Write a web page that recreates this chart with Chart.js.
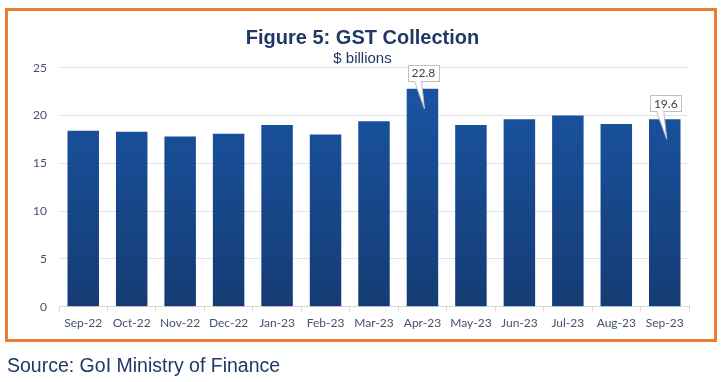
<!DOCTYPE html>
<html>
<head>
<meta charset="utf-8">
<script src="https://cdn.jsdelivr.net/npm/chart.js@4"></script>
<style>
  html, body { margin:0; padding:0; background:#fff; }
  body { width:725px; height:382px; position:relative; overflow:hidden; }
  #wrap { position:absolute; left:0; top:0; width:725px; height:382px; }
  #frame { position:absolute; left:5px; top:8px; width:706px; height:328px; border:3px solid #ed7d31; pointer-events:none; }
  #source { position:absolute; left:7px; top:354px; font-family:"Liberation Sans", Arial, sans-serif; font-size:19.5px; color:#203864; white-space:nowrap; }
</style>
</head>
<body>
<div id="wrap"><canvas id="c" width="725" height="382"></canvas></div>
<div id="frame"></div>
<div id="source">Source: GoI Ministry of Finance</div>
<script>
const categories = ["Sep-22","Oct-22","Nov-22","Dec-22","Jan-23","Feb-23","Mar-23","Apr-23","May-23","Jun-23","Jul-23","Aug-23","Sep-23"];
const gstValues = [18.4, 18.3, 17.8, 18.1, 19.0, 18.0, 19.4, 22.8, 19.0, 19.6, 20.0, 19.1, 19.6];
const calloutIndices = [7, 12];
const yTicks = [0, 5, 10, 15, 20, 25];

const calloutPlugin = {
  id: 'callouts',
  afterDatasetsDraw(chart) {
    const ctx = chart.ctx;
    const meta = chart.getDatasetMeta(0);
    ctx.save();
    calloutIndices.forEach(i => {
      const bar = meta.data[i];
      const cx = bar.x + 1;
      const top = bar.y;
      const w = 31, h = 16;
      const bx = cx - w / 2, by = top - 8 - h;
      ctx.fillStyle = '#ffffff';
      ctx.strokeStyle = '#bfbfbf';
      ctx.lineWidth = 1;
      ctx.fillRect(bx, by, w, h);
      ctx.strokeRect(Math.round(bx) + 0.5, Math.round(by) + 0.5, w, h);
      const bl = cx - 9, br = cx - 2, tipX = cx + 1, tipY = top + 20;
      ctx.beginPath();
      ctx.moveTo(bl, by + h + 0.5);
      ctx.lineTo(tipX, tipY);
      ctx.lineTo(br, by + h + 0.5);
      ctx.closePath();
      ctx.fillStyle = '#ffffff';
      ctx.fill();
      ctx.beginPath();
      ctx.moveTo(bl, by + h + 0.5);
      ctx.lineTo(tipX, tipY);
      ctx.lineTo(br, by + h + 0.5);
      ctx.strokeStyle = '#bfbfbf';
      ctx.stroke();
      ctx.fillStyle = '#ffffff';
      ctx.fillRect(bl + 1, by + h - 0.5, br - bl - 1.5, 2);
      ctx.fillStyle = '#404040';
      ctx.font = '12px Lato, "Open Sans", sans-serif';
      ctx.textAlign = 'center';
      ctx.textBaseline = 'middle';
      ctx.fillText(gstValues[i].toFixed(1), bx + w / 2, by + h / 2 + 0.5);
    });
    ctx.restore();
  }
};

new Chart(document.getElementById('c'), {
  type: 'bar',
  data: {
    labels: categories,
    datasets: [{
      data: gstValues,
      backgroundColor(context) {
        const area = context.chart.chartArea;
        if (!area) return '#1a4f98';
        const g = context.chart.ctx.createLinearGradient(0, area.top, 0, area.bottom);
        g.addColorStop(0, '#1a56a6');
        g.addColorStop(1, '#153c74');
        return g;
      },
      borderWidth: 0,
      barPercentage: 0.65,
      categoryPercentage: 1.0
    }]
  },
  options: {
    responsive: false,
    animation: false,
    devicePixelRatio: 1,
    layout: { padding: { left: 0, right: 0, top: 0, bottom: 0 } },
    plugins: {
      legend: { display: false },
      tooltip: { enabled: false },
      title: {
        display: true,
        text: 'Figure 5: GST Collection',
        color: '#1f3864',
        font: { family: '"Liberation Sans", Arial, sans-serif', size: 20, weight: 'bold', lineHeight: 1.0 },
        padding: { top: 28.5, bottom: 0 }
      },
      subtitle: {
        display: true,
        text: '$ billions',
        color: '#1f3864',
        font: { family: '"Liberation Sans", Arial, sans-serif', size: 15, lineHeight: 1.0 },
        padding: { top: 3, bottom: 1.2 }
      }
    },
    scales: {
      x: {
        offset: true,
        grid: { display: true, offset: true, drawOnChartArea: false, drawTicks: true, tickLength: 5, color: '#d9d9d9' },
        border: { display: true, color: '#d9d9d9' },
        ticks: { color: '#44546a', font: { family: 'Lato, "Open Sans", sans-serif', size: 12 }, padding: 4, maxRotation: 0, autoSkip: false },
        afterFit(scale) { scale.height = 382 - 306.7; }
      },
      y: {
        min: 0, max: 25,
        afterBuildTicks(scale) { scale.ticks = yTicks.map(v => ({ value: v })); },
        grid: { color: '#dfe3ea', drawTicks: false },
        border: { display: false },
        ticks: { color: '#44546a', font: { family: 'Lato, "Open Sans", sans-serif', size: 12 }, padding: 12 },
        afterFit(scale) { scale.width = 59; }
      },
      yRight: {
        position: 'right',
        display: true,
        min: 0, max: 25,
        grid: { display: false, drawOnChartArea: false },
        border: { display: false },
        ticks: { display: false },
        afterFit(scale) { scale.width = 36; }
      }
    }
  },
  plugins: [calloutPlugin]
});
</script>
</body>
</html>
